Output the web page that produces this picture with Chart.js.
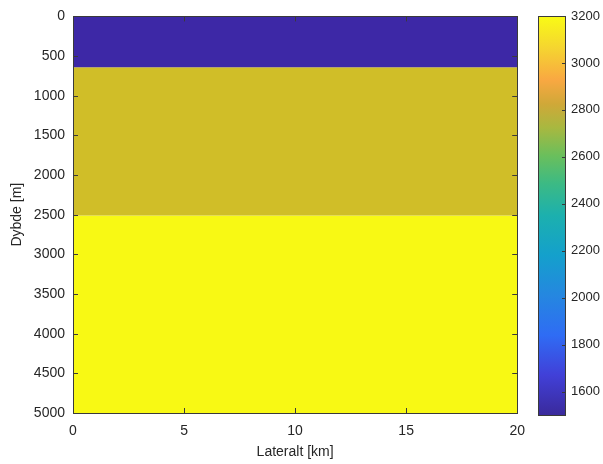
<!DOCTYPE html>
<html lang="en">
<head>
    <meta charset="UTF-8">
    <title>Dybde modell</title>
    <style>
        body {
            margin: 0;
            background: #fff;
        }
        #main-wrap {
            position: absolute;
            left: 0;
            top: 0;
            width: 535px;
            height: 464px;
        }
        #bar-wrap {
            position: absolute;
            left: 520px;
            top: 0;
            width: 83px;
            height: 464px;
        }
    </style>
    <script src="https://cdn.jsdelivr.net/npm/chart.js"></script>
</head>
<body>
    <div id="main-wrap"><canvas id="model-chart"></canvas></div>
    <div id="bar-wrap"><canvas id="colorbar"></canvas></div>

    <script>
        // Layer data (depth in m, value on colour scale)
        const layerTops = [0, 640, 2510];
        const layerBottoms = [640, 2510, 5000];
        const layerValues = [1500, 2800, 3200];
        const layerColors = ['#3d28a6', '#d0be28', '#f8f914'];

        const xTicks = [0, 5, 10, 15, 20];
        const yTicks = [0, 500, 1000, 1500, 2000, 2500, 3000, 3500, 4000, 4500, 5000];
        const colorbarTicks = [1600, 1800, 2000, 2200, 2400, 2600, 2800, 3000, 3200];
        const colorbarMin = 1500;
        const colorbarMax = 3200;

        // parula-ish colour stops for the colorbar
        const parulaStops = [
            [0.0, '#3a2a9c'], [0.1, '#4140d8'], [0.2, '#2f6cf4'], [0.3, '#2587e0'],
            [0.4, '#14a0cc'], [0.5, '#1cb0ae'], [0.58, '#3cba84'], [0.65, '#6abf5c'],
            [0.72, '#a8b840'], [0.78, '#d0a838'], [0.84, '#f9a842'], [0.92, '#f5d530'],
            [1.0, '#f9fb15']
        ];

        const axisColor = '#262626';
        const font = { family: 'Liberation Sans, Arial, sans-serif', size: 14 };
        const plain = v => String(v);

        // draws the box and MATLAB-style inward ticks
        const boxPlugin = {
            id: 'box',
            afterDraw(chart, args, opts) {
                const ctx = chart.ctx;
                const a = chart.chartArea;
                ctx.save();
                ctx.strokeStyle = '#3a3a3a';
                ctx.lineWidth = 1;
                ctx.beginPath();
                if (opts.xTicks) {
                    opts.xTicks.forEach(v => {
                        const px = Math.round(chart.scales.x.getPixelForValue(v)) + 0.5;
                        ctx.moveTo(px, a.bottom); ctx.lineTo(px, a.bottom - 5);
                        ctx.moveTo(px, a.top); ctx.lineTo(px, a.top + 5);
                    });
                }
                if (opts.yTicks) {
                    opts.yTicks.forEach(v => {
                        const py = Math.round(chart.scales.y.getPixelForValue(v)) + 0.5;
                        if (opts.leftTicks) { ctx.moveTo(a.left, py); ctx.lineTo(a.left + 5, py); }
                        ctx.moveTo(a.right, py); ctx.lineTo(a.right - opts.tickLen, py);
                    });
                }
                ctx.stroke();
                ctx.strokeRect(Math.round(a.left) + 0.5, Math.round(a.top) + 0.5,
                    Math.round(a.right - a.left), Math.round(a.bottom - a.top));
                ctx.restore();
            }
        };

        // one filled band per layer
        const datasets = layerTops.map((top, i) => ({
            label: 'Lag ' + (i + 1) + ' (' + layerValues[i] + ')',
            data: [{ x: 0, y: layerBottoms[i] }, { x: 20, y: layerBottoms[i] }],
            fill: { target: { value: top } },
            backgroundColor: layerColors[i],
            borderWidth: 0,
            pointRadius: 0
        }));

        const noGrid = { display: false, drawTicks: false };

        new Chart(document.getElementById('model-chart'), {
            type: 'line',
            data: { datasets: datasets },
            plugins: [boxPlugin],
            options: {
                responsive: true,
                maintainAspectRatio: false,
                animation: false,
                layout: { padding: { top: 16, right: 3, left: 9, bottom: 0 } },
                plugins: {
                    legend: { display: false },
                    tooltip: { enabled: false },
                    box: { xTicks: xTicks, yTicks: yTicks, leftTicks: true, tickLen: 5 }
                },
                scales: {
                    x: {
                        type: 'linear',
                        min: 0,
                        max: 20,
                        grid: noGrid,
                        border: { display: false },
                        afterBuildTicks: s => { s.ticks = xTicks.map(v => ({ value: v })); },
                        afterFit: s => { s.height = 51; },
                        ticks: { color: axisColor, font: font, padding: 10, maxRotation: 0, callback: plain },
                        title: { display: true, text: 'Lateralt [km]', color: axisColor, font: font, padding: { top: 2, bottom: 3 } }
                    },
                    y: {
                        type: 'linear',
                        reverse: true,
                        min: 0,
                        max: 5000,
                        grid: noGrid,
                        border: { display: false },
                        afterBuildTicks: s => { s.ticks = yTicks.map(v => ({ value: v })); },
                        afterFit: s => { s.width = 64; },
                        ticks: { color: axisColor, font: font, padding: 8, callback: plain },
                        title: { display: true, text: 'Dybde [m]', color: axisColor, font: font, padding: { top: 0, bottom: 2 } }
                    }
                }
            }
        });

        // colorbar
        function parulaGradient(ctx, area) {
            const g = ctx.createLinearGradient(0, area.bottom, 0, area.top);
            parulaStops.forEach(s => g.addColorStop(s[0], s[1]));
            return g;
        }

        new Chart(document.getElementById('colorbar'), {
            type: 'bar',
            data: {
                labels: ['c'],
                datasets: [{
                    data: [[colorbarMin, colorbarMax]],
                    backgroundColor: c => c.chart.chartArea ? parulaGradient(c.chart.ctx, c.chart.chartArea) : '#888',
                    barPercentage: 1,
                    categoryPercentage: 1,
                    borderWidth: 0
                }]
            },
            plugins: [boxPlugin],
            options: {
                responsive: true,
                maintainAspectRatio: false,
                animation: false,
                layout: { padding: { top: 16, right: 0, left: 18, bottom: 49 } },
                plugins: {
                    legend: { display: false },
                    tooltip: { enabled: false },
                    box: { yTicks: colorbarTicks, leftTicks: false, tickLen: 3 }
                },
                scales: {
                    x: { display: false },
                    y: {
                        position: 'right',
                        min: colorbarMin,
                        max: colorbarMax,
                        grid: noGrid,
                        border: { display: false },
                        afterBuildTicks: s => { s.ticks = colorbarTicks.map(v => ({ value: v })); },
                        afterFit: s => { s.width = 38; },
                        ticks: { color: axisColor, font: { family: font.family, size: 13 }, padding: 6, callback: plain }
                    }
                }
            }
        });
    </script>
</body>
</html>
